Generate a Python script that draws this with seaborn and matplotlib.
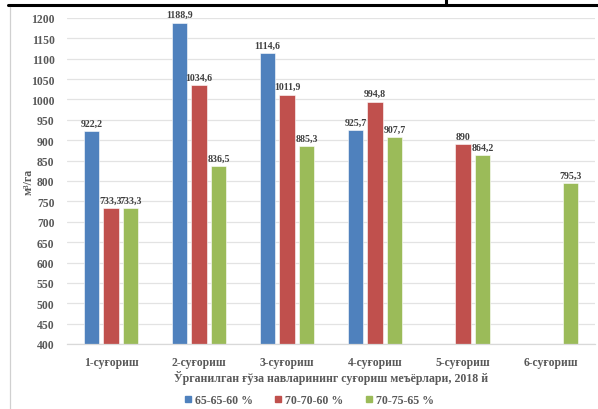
import matplotlib
matplotlib.use("Agg")
import matplotlib.pyplot as plt
from matplotlib.lines import Line2D
import seaborn as sns
import pandas as pd
import numpy as np

# Irrigation events and water norms (m³/ha) for three soil-moisture regimes
events = ["1-суғориш", "2-суғориш", "3-суғориш", "4-суғориш", "5-суғориш", "6-суғориш"]
regimes = ["65-65-60 %", "70-70-60 %", "70-75-65 %"]
norm_65_65_60 = [922.2, 1188.9, 1114.6, 925.7, np.nan, np.nan]
norm_70_70_60 = [733.3, 1034.6, 1011.9, 994.8, 890.0, np.nan]
norm_70_75_65 = [733.3, 836.5, 885.3, 907.7, 864.2, 795.3]
colors = ["#4f81bd", "#c0504d", "#9bbb59"]

rows = []
for reg, vals in zip(regimes, [norm_65_65_60, norm_70_70_60, norm_70_75_65]):
    for ev, v in zip(events, vals):
        rows.append({"event": ev, "regime": reg, "value": v})
df = pd.DataFrame(rows).dropna()

sns.set_style("white")
plt.rcParams["font.family"] = ["Liberation Serif", "DejaVu Serif"]
plt.rcParams["font.weight"] = "bold"

fig = plt.figure(figsize=(5.98, 4.10), dpi=100)
ax = fig.add_axes([67 / 598, 1 - 345 / 410, (595 - 67) / 598, (345 - 19) / 410])

sns.barplot(data=df, x="event", y="value", hue="regime", order=events,
            hue_order=regimes, palette=colors, width=0.665, gap=0.2,
            edgecolor="white", linewidth=0.4, saturation=1, legend=False, ax=ax)

def fmt(v):
    if float(v).is_integer():
        return f"{int(v)}"
    return f"{v:.1f}".replace(".", ",")

for cont in ax.containers:
    ax.bar_label(cont, labels=[fmt(v) for v in cont.datavalues], padding=2.5,
                 fontsize=7.1, fontweight="bold", color="#404040")

ax.set_ylim(400, 1200)
ax.set_xlim(-0.5, 5.5)
ax.set_yticks(np.arange(400, 1201, 50))
ax.yaxis.grid(True, color="#e3e3e3", linewidth=0.9)
ax.set_axisbelow(True)
for s in ["top", "right", "left"]:
    ax.spines[s].set_visible(False)
ax.spines["bottom"].set_color("#d9d9d9")
ax.spines["bottom"].set_linewidth(0.9)
ax.tick_params(axis="both", length=0, colors="#595959", labelsize=8.4)
ax.tick_params(axis="x", pad=9)
ax.tick_params(axis="y", pad=9)
for lab in ax.get_xticklabels() + ax.get_yticklabels():
    lab.set_fontweight("bold")

ax.set_xlabel("Ўрганилган ғўза навларининг суғориш меъёрлари, 2018 й",
              fontsize=8.6, fontweight="bold", color="#595959", labelpad=1)
ax.set_ylabel("м³/га", fontsize=8.6, fontweight="bold", color="#595959")
ax.yaxis.set_label_coords(-0.062, 0.5)

handles = [Line2D([], [], marker="s", linestyle="none", markersize=4.5,
                  markerfacecolor=c, markeredgecolor=c) for c in colors]
fig.legend(handles, regimes, loc="center", bbox_to_anchor=(309 / 598, 1 - 401 / 410),
           ncol=3, frameon=False, handlelength=0.6, handletextpad=0.3,
           columnspacing=1.8, labelcolor="#595959",
           prop={"weight": "bold", "size": 8.6})

# page frame lines around the chart
fig.add_artist(Line2D([8 / 598, 1], [1 - 6 / 410, 1 - 6 / 410], color="black",
                      linewidth=2.2, transform=fig.transFigure))
fig.add_artist(Line2D([446 / 598, 446 / 598], [1, 1 - 6 / 410], color="black",
                      linewidth=2.2, transform=fig.transFigure))
fig.add_artist(Line2D([10 / 598, 10 / 598], [0, 1 - 8 / 410], color="#d0d0d0",
                      linewidth=0.9, transform=fig.transFigure))

fig.savefig("out.png", dpi=100)
